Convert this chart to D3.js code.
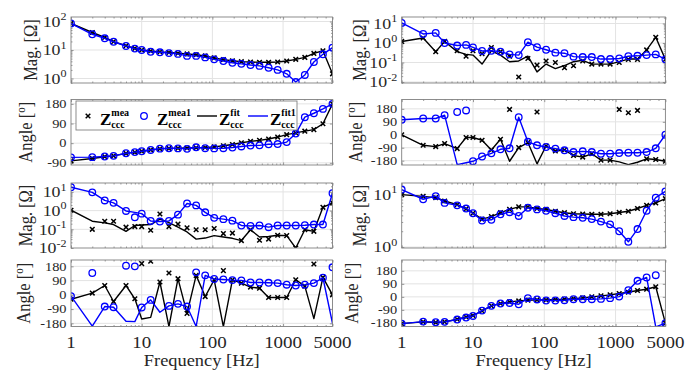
<!DOCTYPE html>
<html><head><meta charset="utf-8">
<script src="https://cdn.jsdelivr.net/npm/d3@7"></script>
<style>body{margin:0;background:#fff}svg{display:block}</style>
</head><body>
<svg id="c" width="698" height="372"></svg>
<script>
// ---------------- DATA ----------------
const freq = [1,2,3,4,6,8,10,13.4,18.1,24.3,32.6,43.8,58.9,79.1,106,143,192,257,346,464,624,838,1125,1511,2030,2726,3661,5000];
const xTickVals = [1,10,100,1000,5000];
const xTickLabels = ["1","10","100","1000","5000"];
const angTickVals = [-180,-90,0,90,180];
const angTickLabels = ["-180","-90","0","90","180"];
const legendSup = ["mea","mea1","fit","fit1"];

// left column, row 1 : magnitude
const L1_mea  = [85.8,41.2,27.5,19.7,14.1,11.4,10,9.2,8.6,8.2,7.7,7.3,6.8,6.2,5.3,4.6,4.2,3.9,3.8,3.7,3.7,3.8,4.1,4.7,5.5,7.6,9.4,1.46];
const L1_fit  = [85.8,41.2,27.5,19.7,14.1,11.4,10,9.2,8.6,8.2,7.7,7.3,6.8,6.2,5.3,4.6,4.2,3.9,3.8,3.7,3.7,3.8,4.1,4.7,5.5,7.6,9.4,1.46];
const L1_mea1 = [85.8,35.7,25.8,19.5,13.8,11.2,10,8.7,8.3,7.8,7.3,6.2,6.2,5.5,4.7,4.1,3.56,3.26,2.97,2.77,2.38,2.0,1.46,0.75,1.33,3.8,7.06,12.1];
const L1_fit1 = [85.8,35.7,25.8,19.5,13.8,11.2,10,8.7,8.3,7.8,7.3,6.2,6.2,5.5,4.7,4.1,3.56,3.26,2.97,2.77,2.38,2.0,1.46,0.75,1.33,3.8,7.06,12.1];
// left column, row 2 : angle
const L2_mea  = [-81,-70,-62,-58,-47,-42,-37,-31,-26,-24,-23,-22,-21,-20,-17,-12,-6,2,8,13,19,28,39,47,55,62,89,180];
const L2_fit  = [-81,-70,-62,-58,-47,-42,-37,-31,-26,-24,-23,-22,-21,-20,-17,-12,-6,2,8,13,19,28,39,47,55,62,89,180];
const L2_mea1 = [-65,-64,-61,-58,-46,-41,-37,-31,-25,-23,-24,-26,-19,-23,-24,-23,-20,-15,-11,-10,-5,-4,5,44,119,137,157,180];
const L2_fit1 = [-65,-64,-61,-58,-46,-41,-37,-31,-25,-23,-24,-26,-19,-23,-24,-23,-20,-15,-11,-10,-5,-4,5,44,119,137,157,180];
// left column, row 3 : magnitude
const L3_mea  = [1.05,0.1,0.27,0.27,0.13,0.14,0.14,0.089,0.66,0.14,0.19,0.12,0.095,0.095,0.11,0.059,0.063,0.025,0.095,0.026,0.03,0.048,0.046,0.01,0.095,0.078,1.5,2.6];
const L3_fit  = [1.05,0.27,0.22,0.18,0.078,0.16,0.17,0.18,0.35,0.23,0.13,0.072,0.03,0.034,0.046,0.039,0.033,0.025,0.095,0.039,0.041,0.048,0.046,0.01,0.095,0.078,1.5,2.6];
const L3_mea1 = [17.8,9.5,3.5,2.6,0.96,0.44,0.69,0.28,0.26,0.28,0.61,2.4,1.9,0.81,0.41,0.35,0.29,0.16,0.15,0.16,0.13,0.16,0.16,0.16,0.165,0.18,0.18,8.5];
const L3_fit1 = [17.8,9.5,3.5,2.6,0.96,0.8,0.69,0.28,0.26,0.28,0.61,2.4,1.9,0.81,0.41,0.35,0.29,0.16,0.15,0.16,0.13,0.16,0.16,0.16,0.165,0.18,0.18,8.5];
// left column, row 4 : angle
const L4_mea  = [-28,11,59,-42,59,-25,197,212,81,138,102,-117,123,-11,95,153,95,74,49,42,-17,-17,-17,95,55,195,110,0];
const L4_fit  = [-28,11,59,-42,59,-25,-153,-142,81,-201,102,-117,123,-11,95,-201,95,74,49,42,-17,-17,-17,95,55,-150,110,0];
const L4_mea1 = [-8,138,-74,-78,184,180,-80,-32,null,-70,-57,-74,142,123,100,97,93,91,78,78,76,74,64,59,64,74,108,174];
const L4_fit1 = [-8,-198,-74,-78,-167,-169,-80,-32,-110,-70,-57,-74,-200,123,100,97,93,91,78,78,76,74,64,59,64,74,108,-180];
// right column, row 1 : magnitude
const R1_mea  = [1.2,1.8,0.36,1.2,0.4,0.21,0.4,0.28,0.59,0.36,0.21,0.018,0.16,0.074,0.12,0.1,0.054,0.068,0.12,0.083,0.083,0.083,0.1,0.145,0.145,0.44,1.95,0.145];
const R1_fit  = [1.2,1.8,0.36,1.2,0.36,0.26,0.24,0.083,0.4,0.24,0.11,0.12,0.21,0.033,0.083,0.049,0.07,0.11,0.13,0.083,0.083,0.083,0.11,0.15,0.15,0.44,1.95,0.145];
const R1_mea1 = [10.7,2.9,3.3,1.0,0.74,0.8,0.59,0.39,0.4,0.36,0.26,0.24,1.1,0.61,0.45,0.32,0.3,0.2,0.19,0.19,0.15,0.15,0.16,0.21,0.22,0.24,0.26,0.145];
const R1_fit1 = [10.7,2.9,3.3,1.0,0.74,0.8,0.59,0.39,0.4,0.36,0.26,0.24,1.1,0.61,0.45,0.32,0.3,0.2,0.19,0.19,0.15,0.15,0.16,0.21,0.22,0.24,0.26,0.145];
// right column, row 2 : angle
const R2_mea  = [0,-73,-82,-61,-96,-19,-19,-38,-106,-31,176,-89,-54,158,-78,-113,-106,-144,-155,-132,-176,-176,176,153,169,-167,-172,-184];
const R2_fit  = [0,-73,-82,-61,-96,-19,-19,-38,-106,-31,-184,-89,-54,-202,-78,-113,-106,-144,-155,-132,-176,-176,-188,-207,-191,-167,-172,-184];
const R2_mea1 = [104,113,113,136,158,169,-184,-151,-129,-101,-94,122,-49,-73,-85,-96,-108,-120,-115,-120,-132,-132,-127,-125,-125,-120,-94,0];
const R2_fit1 = [104,113,113,136,-207,-194,-184,-151,-129,-101,-94,122,-49,-73,-85,-96,-108,-120,-115,-120,-132,-132,-127,-125,-125,-120,-94,0];
// right column, row 3 : magnitude
const R3_mea  = [9.9,9.2,8.7,7.5,6.4,5.3,4.4,3.4,3.8,4.5,5.2,5.8,5.8,5.4,5.2,4.8,4.5,4.3,4.25,4.2,4.2,4.3,4.55,4.8,5.4,6.2,6.9,8.3];
const R3_fit  = [9.9,9.2,8.7,7.5,6.4,5.3,4.4,3.4,3.8,4.5,5.2,5.8,5.8,5.4,5.2,4.8,4.5,4.3,4.25,4.2,4.2,4.3,4.55,4.8,5.4,6.2,6.9,8.3];
const R3_mea1 = [12.4,8.1,9.3,6.9,6.2,5.4,4.4,3.2,3.3,4.2,4.6,3.9,5.6,5.2,4.9,4.4,3.9,3.7,3.6,3.4,3.05,2.7,2.0,1.26,2.2,4.9,8.7,11.4];
const R3_fit1 = [12.4,8.1,9.3,6.9,6.2,5.4,4.4,3.2,3.3,4.2,4.6,3.9,5.6,5.2,4.9,4.4,3.9,3.7,3.6,3.4,3.05,2.7,2.0,1.26,2.2,4.9,8.7,11.4];
// right column, row 4 : angle
const R4_mea  = [-185,-173,-177,-173,-155,-139,-129,-97,-62,-46,-35,-28,-23,-21,-21,-18,-16,-12,-7,0,7,14,23,32,44,53,70,-182];
const R4_fit  = [-185,-173,-177,-173,-155,-139,-129,-97,-62,-46,-35,-28,-23,-21,-21,-18,-16,-12,-7,0,7,14,23,32,44,53,70,-182];
const R4_mea1 = [-185,-171,-175,-173,-157,-143,-132,-95,-62,-46,-42,-51,-9,-18,-25,-25,-23,-16,-16,-16,-14,-9,2,46,111,134,150,-182];
const R4_fit1 = [-185,-171,-175,-173,-157,-143,-132,-95,-62,-46,-42,-51,-9,-18,-25,-25,-23,-16,-16,-16,-14,-9,2,46,111,134,-208,-182];

// ---------------- LAYOUT / STYLE ----------------
const cols = [{x0:71, x1:332.5}, {x0:401.7, x1:665.4}];
const rows = [{y0:17, y1:83}, {y0:99.5, y1:165}, {y0:183, y1:248}, {y0:260, y1:326.5}];
const SX = 1.15;
const FONT = '"Liberation Serif","Times New Roman",serif';
const BLUE = '#0000ff', BLACK = '#000000', BOX = '#808080', GRID = '#e3e3e3', TXT = '#262626';

const panels = [
  {col:0,row:0,log:true, dom:[0.695,144],        ticks:[1,10,100],          mea:L1_mea,fit:L1_fit,mea1:L1_mea1,fit1:L1_fit1, lx:37},
  {col:0,row:1,log:false,dom:[-100,200],         ticks:[-90,0,90,180],      mea:L2_mea,fit:L2_fit,mea1:L2_mea1,fit1:L2_fit1, lx:32, legend:true},
  {col:0,row:2,log:true, dom:[0.01,30],          ticks:[0.01,0.1,1,10],     mea:L3_mea,fit:L3_fit,mea1:L3_mea1,fit1:L3_fit1, lx:32},
  {col:0,row:3,log:false,dom:[-200,220],         ticks:angTickVals,         mea:L4_mea,fit:L4_fit,mea1:L4_mea1,fit1:L4_fit1, lx:30, xlab:true},
  {col:1,row:0,log:true, dom:[0.0089,21.5],      ticks:[0.01,0.1,1,10],     mea:R1_mea,fit:R1_fit,mea1:R1_mea1,fit1:R1_fit1, lx:366},
  {col:1,row:1,log:false,dom:[-210,245],         ticks:angTickVals,         mea:R2_mea,fit:R2_fit,mea1:R2_mea1,fit1:R2_fit1, lx:362},
  {col:1,row:2,log:true, dom:[0.96,16.5],        ticks:[1,10],              mea:R3_mea,fit:R3_fit,mea1:R3_mea1,fit1:R3_fit1, lx:366},
  {col:1,row:3,log:false,dom:[-205,255],         ticks:angTickVals,         mea:R4_mea,fit:R4_fit,mea1:R4_mea1,fit1:R4_fit1, lx:358, xlab:true}
];

const svg = d3.select('#c');
const defs = svg.append('defs');

function addText(g, x, y, size, anchor, rot, sx) {
  const s = sx == null ? SX : sx;
  return g.append('text')
    .attr('transform', `translate(${x},${y}) scale(${s},1)` + (rot ? ' rotate(-90)' : ''))
    .attr('font-size', size).attr('text-anchor', anchor)
    .attr('font-family', FONT).attr('fill', TXT);
}

const xMark = 'M-2.3,-2.3L2.3,2.3M-2.3,2.3L2.3,-2.3';

panels.forEach((p, i) => {
  const c = cols[p.col], r = rows[p.row];
  const x = d3.scaleLog().domain([1, 5000]).range([c.x0, c.x1]);
  const y = (p.log ? d3.scaleLog() : d3.scaleLinear()).domain(p.dom).range([r.y1, r.y0]);
  const g = svg.append('g');
  const cid = 'clip' + i;
  defs.append('clipPath').attr('id', cid).append('rect')
    .attr('x', c.x0).attr('y', r.y0).attr('width', c.x1 - c.x0).attr('height', r.y1 - r.y0);

  // grid
  g.append('g').selectAll('line').data(xTickVals.filter(v => v > 1 && v < 5000)).enter().append('line')
    .attr('x1', d => x(d)).attr('x2', d => x(d)).attr('y1', r.y0).attr('y2', r.y1)
    .attr('stroke', GRID).attr('stroke-width', 1);
  g.append('g').selectAll('line').data(p.ticks.filter(v => y(v) > r.y0 + 0.5 && y(v) < r.y1 - 0.5)).enter().append('line')
    .attr('x1', c.x0).attr('x2', c.x1).attr('y1', d => y(d)).attr('y2', d => y(d))
    .attr('stroke', GRID).attr('stroke-width', 1);

  // tick marks through d3 axes (inward)
  const minorX = x.ticks().filter(v => xTickVals.indexOf(v) < 0);
  const axB = g.append('g').attr('transform', `translate(0,${r.y1})`)
    .call(d3.axisBottom(x).tickValues(xTickVals).tickSize(-2.6).tickFormat(''));
  const axBm = g.append('g').attr('transform', `translate(0,${r.y1})`)
    .call(d3.axisBottom(x).tickValues(minorX).tickSize(-1.5).tickFormat(''));
  const axT = g.append('g').attr('transform', `translate(0,${r.y0})`)
    .call(d3.axisTop(x).tickValues(xTickVals).tickSize(-2.6).tickFormat(''));
  const axTm = g.append('g').attr('transform', `translate(0,${r.y0})`)
    .call(d3.axisTop(x).tickValues(minorX).tickSize(-1.5).tickFormat(''));
  const axL = g.append('g').attr('transform', `translate(${c.x0},0)`)
    .call(d3.axisLeft(y).tickValues(p.ticks).tickSize(-2.6).tickFormat(''));
  const axR = g.append('g').attr('transform', `translate(${c.x1},0)`)
    .call(d3.axisRight(y).tickValues(p.ticks).tickSize(-2.6).tickFormat(''));
  [axB, axBm, axT, axTm, axL, axR].forEach(a => {
    a.select('.domain').remove();
    a.selectAll('line').attr('stroke', BOX).attr('stroke-width', 0.8);
  });
  if (p.log) {
    const minorY = y.ticks().filter(v => !p.ticks.some(t => Math.abs(t - v) / t < 1e-6));
    [[c.x0, d3.axisLeft], [c.x1, d3.axisRight]].forEach(([px, fn]) => {
      const a = g.append('g').attr('transform', `translate(${px},0)`)
        .call(fn(y).tickValues(minorY).tickSize(-1.5).tickFormat(''));
      a.select('.domain').remove();
      a.selectAll('line').attr('stroke', BOX).attr('stroke-width', 0.8);
    });
  }

  // data
  const dg = g.append('g').attr('clip-path', `url(#${cid})`);
  const line = d3.line().defined(d => d[1] != null).x(d => x(d[0])).y(d => y(d[1]));
  const zip = arr => freq.map((f, k) => [f, arr[k]]);
  dg.append('path').datum(zip(p.fit)).attr('d', line).attr('fill', 'none')
    .attr('stroke', BLACK).attr('stroke-width', 1.4).attr('stroke-linejoin', 'round');
  dg.append('g').selectAll('path').data(zip(p.mea).filter(d => d[1] != null)).enter().append('path')
    .attr('d', xMark).attr('transform', d => `translate(${x(d[0])},${y(d[1])})`)
    .attr('stroke', BLACK).attr('stroke-width', 1.5).attr('fill', 'none');
  dg.append('path').datum(zip(p.fit1)).attr('d', line).attr('fill', 'none')
    .attr('stroke', BLUE).attr('stroke-width', 1.4).attr('stroke-linejoin', 'round');
  dg.append('g').selectAll('circle').data(zip(p.mea1).filter(d => d[1] != null)).enter().append('circle')
    .attr('cx', d => x(d[0])).attr('cy', d => y(d[1])).attr('r', 3.3)
    .attr('stroke', BLUE).attr('stroke-width', 1.3).attr('fill', 'none');

  // box
  g.append('rect').attr('x', c.x0).attr('y', r.y0).attr('width', c.x1 - c.x0).attr('height', r.y1 - r.y0)
    .attr('fill', 'none').attr('stroke', BOX).attr('stroke-width', 0.9);

  // y tick labels
  const lxr = c.x0 - 4.5;
  p.ticks.forEach((v) => {
    if (p.log) {
      const e = Math.round(Math.log10(v));
      const t = addText(g, lxr, y(v) + 5.2, 15.5, 'end');
      t.append('tspan').text('10');
      t.append('tspan').attr('dy', -6.5).attr('font-size', 10.5).text(String(e));
    } else {
      addText(g, lxr, y(v) + 4.2, 12.5, 'end').text(angTickLabels[angTickVals.indexOf(v)]);
    }
  });

  // y axis label
  const cy = (r.y0 + r.y1) / 2;
  if (p.log) {
    addText(g, p.lx, cy, 16.5, 'middle', true).text('Mag. [Ω]');
  } else {
    const t = addText(g, p.lx, cy, 16.5, 'middle', true);
    t.append('tspan').text('Angle [');
    t.append('tspan').attr('dy', -6).attr('font-size', 11).text('o');
    t.append('tspan').attr('dy', 6).text(']');
  }

  // x tick labels and x label
  if (p.xlab) {
    xTickVals.forEach((v, k) => addText(g, x(v), 347.5, 16.5, 'middle').text(xTickLabels[k]));
    addText(g, (c.x0 + c.x1) / 2, 366, 16, 'middle').text('Frequency [Hz]');
  }

  // legend
  if (p.legend) {
    const lg = svg.append('g');
    lg.append('rect').attr('x', 76).attr('y', 101).attr('width', 221).attr('height', 29)
      .attr('fill', '#fff').attr('stroke', BOX).attr('stroke-width', 0.9);
    const ly = 116;
    lg.append('path').attr('d', xMark).attr('transform', `translate(88,${ly})`)
      .attr('stroke', BLACK).attr('stroke-width', 1.5);
    lg.append('circle').attr('cx', 144).attr('cy', ly).attr('r', 3.3)
      .attr('stroke', BLUE).attr('stroke-width', 1.3).attr('fill', 'none');
    lg.append('line').attr('x1', 197).attr('x2', 217).attr('y1', ly).attr('y2', ly)
      .attr('stroke', BLACK).attr('stroke-width', 1.4);
    lg.append('line').attr('x1', 248).attr('x2', 268).attr('y1', ly).attr('y2', ly)
      .attr('stroke', BLUE).attr('stroke-width', 1.4);
    const zx = [100, 157, 219, 270];
    legendSup.forEach((s, k) => {
      addText(lg, zx[k], 124.5, 17, 'start', false, 1).attr('font-weight', 'bold').attr('fill', BLACK).text('Z');
      addText(lg, zx[k] + 11.3, 115.5, 10, 'start', false, 1).attr('font-weight', 'bold').attr('fill', BLACK).text(s);
      addText(lg, zx[k] + 11.3, 127.5, 10, 'start', false, 1).attr('font-weight', 'bold').attr('fill', BLACK).text('ccc');
    });
  }
});
</script>
</body></html>
